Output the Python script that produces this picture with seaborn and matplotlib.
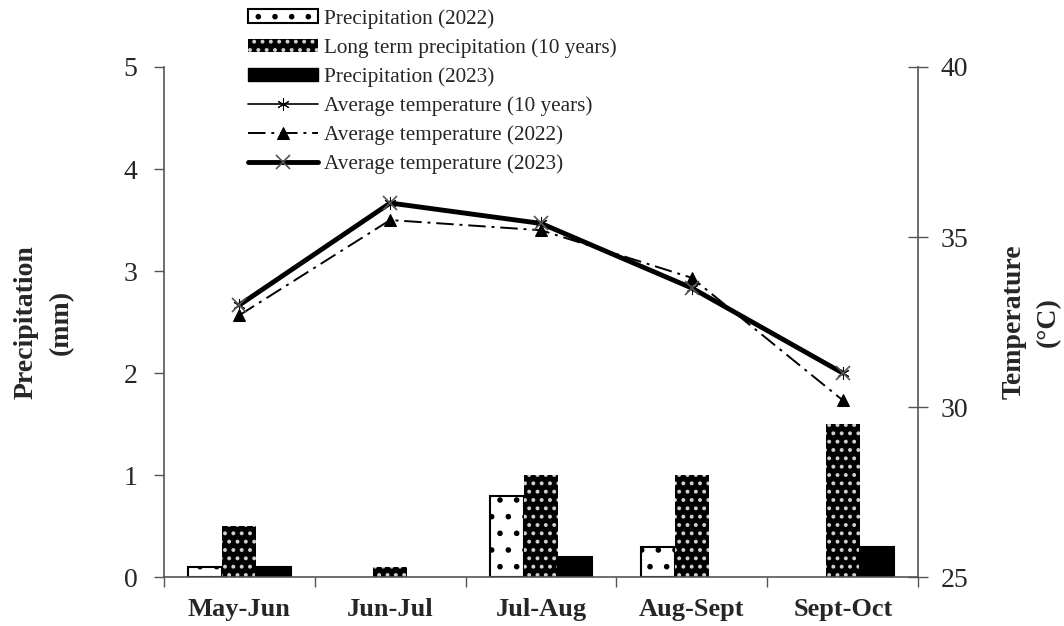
import numpy as np
import pandas as pd
import seaborn as sns
import matplotlib.pyplot as plt
from matplotlib.patches import Patch

periods = ['May-Jun', 'Jun-Jul', 'Jul-Aug', 'Aug-Sept', 'Sept-Oct']
precip_2022 = [0.1, 0.0, 0.8, 0.3, 0.0]
precip_10yr = [0.5, 0.1, 1.0, 1.0, 1.5]
precip_2023 = [0.1, 0.0, 0.2, 0.0, 0.3]
temp_10yr = [33.0, 36.0, 35.4, 33.5, 31.0]
temp_2022 = [32.7, 35.5, 35.2, 33.8, 30.2]
temp_2023 = [33.0, 36.0, 35.4, 33.5, 31.0]

bar_labels = ['Precipitation (2022)', 'Long term precipitation (10 years)',
              'Precipitation (2023)']

sns.set_theme(style='white')
plt.rcParams['font.family'] = ['Liberation Serif', 'DejaVu Serif']
plt.rcParams['hatch.linewidth'] = 1.6

df = pd.DataFrame({
    'period': periods * 3,
    'value': precip_2022 + precip_10yr + precip_2023,
    'series': [bar_labels[0]] * 5 + [bar_labels[1]] * 5 + [bar_labels[2]] * 5,
})

fig = plt.figure(figsize=(10.64, 6.26), dpi=100)
ax = fig.add_axes([0.154, 0.078, 0.709, 0.815])

sns.barplot(data=df, x='period', y='value', hue='series', hue_order=bar_labels,
            order=periods, width=0.68, palette=['white', 'black', 'black'],
            edgecolor='black', linewidth=1.5, ax=ax, legend=False, saturation=1)

# style bars: dotted white, black with white dots, solid black
n = len(periods)
for i, p in enumerate(ax.patches[:3 * n]):
    s = i // n
    if s == 0:
        p.set_hatch('.')
    elif s == 1:
        p.set_edgecolor('#d0d0d0')
        p.set_hatch('..')
        p.set_linewidth(0)
    if p.get_height() == 0:
        p.set_visible(False)

grey = '#555555'
ax.set_ylim(0, 5)
ax.set_xlim(-0.5, 4.5)
ax.set_yticks(range(6))
ax.set_xticks(np.arange(-0.5, 5, 1))
ax.set_xticklabels([])
ax.set_xticks(range(5), minor=True)
ax.set_xticklabels(periods, minor=True, fontsize=19, fontweight='bold')
ax.tick_params(axis='x', which='minor', length=0, pad=15)
ax.tick_params(axis='x', which='major', length=7, width=1, direction='out',
               bottom=True, color=grey)
ax.tick_params(axis='y', length=7, width=1, direction='out', left=True,
               labelsize=20, color=grey, pad=12)
ax.set_xlabel('')
ax.set_ylabel('Precipitation\n(mm)', fontsize=20, fontweight='bold',
              labelpad=36, linespacing=1.5)
for side in ['left', 'bottom']:
    ax.spines[side].set_color(grey)
    ax.spines[side].set_linewidth(1.2)
ax.spines['top'].set_visible(False)
ax.spines['right'].set_visible(False)

ax2 = ax.twinx()
xpos = np.arange(n)
sns.lineplot(x=xpos, y=temp_10yr, ax=ax2, color='black', linewidth=1.2,
             marker=(6, 2, 0), markersize=9, markeredgecolor='black',
             label='Average temperature (10 years)')
sns.lineplot(x=xpos, y=temp_2022, ax=ax2, color='black', linewidth=1.4,
             dashes=False, linestyle=(0, (9, 3, 1.5, 3)), marker='^',
             markersize=9, markeredgecolor='black',
             label='Average temperature (2022)')
sns.lineplot(x=xpos, y=temp_2023, ax=ax2, color='black', linewidth=3.5,
             marker='x', markersize=10, markeredgecolor='#555555',
             markeredgewidth=1.2, label='Average temperature (2023)')
ax2.set_ylim(25, 40)
ax2.set_yticks([25, 30, 35, 40])
ax2.tick_params(axis='y', length=14, width=1, direction='inout', right=True,
                labelsize=20, color=grey, pad=9)
ax2.set_ylabel('Temperature\n(°C)', fontsize=20, fontweight='bold',
               rotation=90, labelpad=24, linespacing=1.5)
for side in ['top', 'left', 'bottom']:
    ax2.spines[side].set_visible(False)
ax2.spines['right'].set_color(grey)
ax2.spines['right'].set_linewidth(1.2)

line_handles, line_labels = ax2.get_legend_handles_labels()
ax2.get_legend().remove()
bar_handles = [
    Patch(facecolor='white', edgecolor='black', hatch='.', linewidth=1.5),
    Patch(facecolor='black', edgecolor='#d0d0d0', hatch='..', linewidth=0),
    Patch(facecolor='black', edgecolor='black'),
]
fig.legend(bar_handles + line_handles, bar_labels + line_labels,
           loc='upper left', bbox_to_anchor=(0.221, 1.006), frameon=False,
           fontsize=15.3, handlelength=3.3, handleheight=0.6,
           labelspacing=0.44, handletextpad=0.28, borderpad=0.1)

fig.savefig('out.png', dpi=100)
